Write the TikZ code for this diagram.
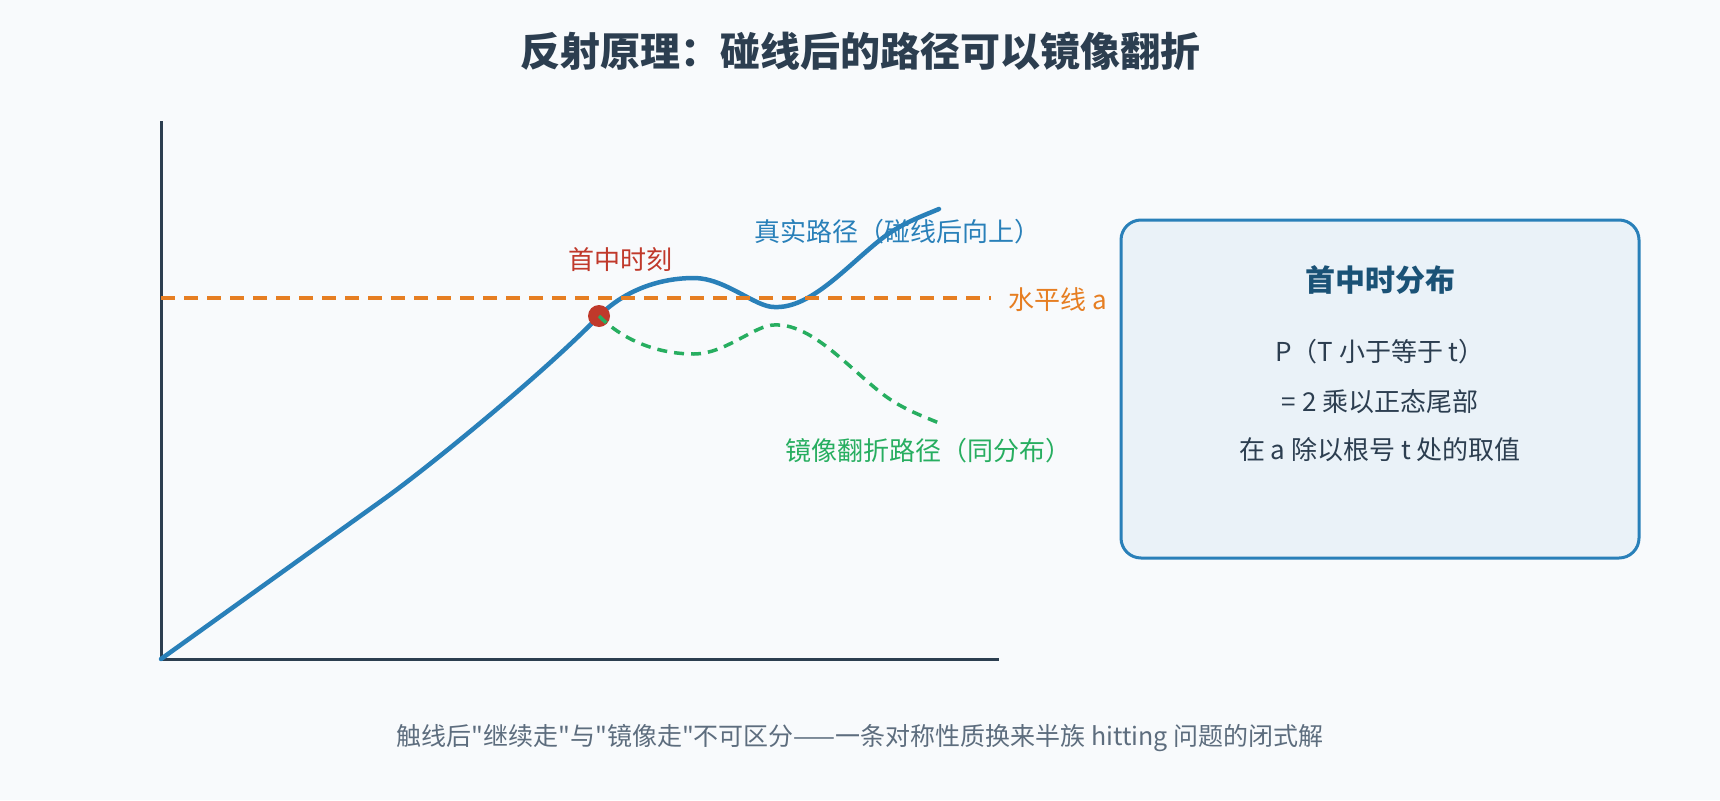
\documentclass[tikz,border=0pt]{standalone}
\usepackage{fontspec}
\setmainfont{Noto Sans CJK SC}[Ligatures=TeXOff]
\definecolor{bgcol}{RGB}{248,250,252}
\definecolor{inkcol}{RGB}{44,62,80}
\definecolor{pathblue}{RGB}{41,128,185}
\definecolor{lineorange}{RGB}{230,126,34}
\definecolor{mirrorgreen}{RGB}{39,174,96}
\definecolor{hitred}{RGB}{192,57,43}
\definecolor{boxfill}{RGB}{234,242,248}
\definecolor{boxtitle}{RGB}{26,82,118}
\definecolor{notegray}{RGB}{93,109,126}
\tikzset{
  lbl/.style={inner sep=0pt, font=\fontsize{26}{30}\selectfont},
}
\begin{document}
\begin{tikzpicture}[x=1pt, y=-1pt]
  \fill[bgcol] (0,0) rectangle (1720,800);
  \useasboundingbox (0,0) rectangle (1720,800);

  \node[inner sep=0pt, font=\fontsize{40}{48}\selectfont\bfseries, text=inkcol] (title) at (860,51) {反射原理：碰线后的路径可以镜像翻折};

  % axes
  \coordinate (origin) at (161,659);
  \coordinate (ytop) at (161,121);
  \coordinate (xend) at (999,659);
  \draw[inkcol, line width=3pt] (ytop) -- (origin) -- (xend);

  % real path and level a
  \coordinate (hit) at (599,316);
  \draw[pathblue, line width=4.5pt, line cap=round, line join=round] (origin) -- (384,499)
    .. controls (430,466) and (545,372) .. (hit)
    .. controls (625,290) and (660,278) .. (694,278)
    .. controls (725,278) and (755,307) .. (774,307)
    .. controls (810,309) and (845,268) .. (880,240)
    .. controls (900,224) and (920,217) .. (939,209);
  \coordinate (lvlstart) at (161,298);
  \coordinate (lvlend) at (991,298);
  \draw[lineorange, line width=4pt, dash pattern=on 14pt off 9pt] (lvlstart) -- (lvlend);
  \node[lbl, anchor=west, text=lineorange] (lvl) at (1008,300) {水平线 a};

  % hitting time and mirrored path
  \node[circle, fill=hitred, minimum size=22pt, inner sep=0pt] (hitdot) at (hit) {};
  \draw[mirrorgreen, line width=3.5pt, dash pattern=on 10pt off 7pt] (hit)
    .. controls (625,342) and (660,354) .. (694,354)
    .. controls (725,354) and (755,325) .. (774,325)
    .. controls (810,323) and (845,364) .. (880,392)
    .. controls (900,408) and (920,415) .. (939,423);

  \node[lbl, text=hitred] (hitlbl) at (620,260) {首中时刻};
  \node[lbl, text=pathblue] (reallbl) at (897,232) {真实路径（碰线后向上）};
  \node[lbl, text=mirrorgreen] (mirrorlbl) at (928,451) {镜像翻折路径（同分布）};

  % distribution box
  \node[draw=pathblue, line width=3pt, fill=boxfill, rounded corners=20pt, minimum width=518pt, minimum height=338pt] (distbox) at (1380,389) {};
  \node[inner sep=0pt, font=\fontsize{30}{36}\selectfont\bfseries, text=boxtitle] (boxhead) at (1380,280) {首中时分布};
  \node[lbl, text=inkcol] (line1) at (1380,352) {P（T 小于等于 t）};
  \node[lbl, text=inkcol] (line2) at (1380,402) {= 2 乘以正态尾部};
  \node[lbl, text=inkcol] (line3) at (1380,450) {在 a 除以根号 t 处的取值};

  \node[inner sep=0pt, font=\fontsize{25}{30}\selectfont, text=notegray] (note) at (860,738) {触线后"继续走"与"镜像走"不可区分——一条对称性质换来半族 hitting 问题的闭式解};
\end{tikzpicture}
\end{document}
